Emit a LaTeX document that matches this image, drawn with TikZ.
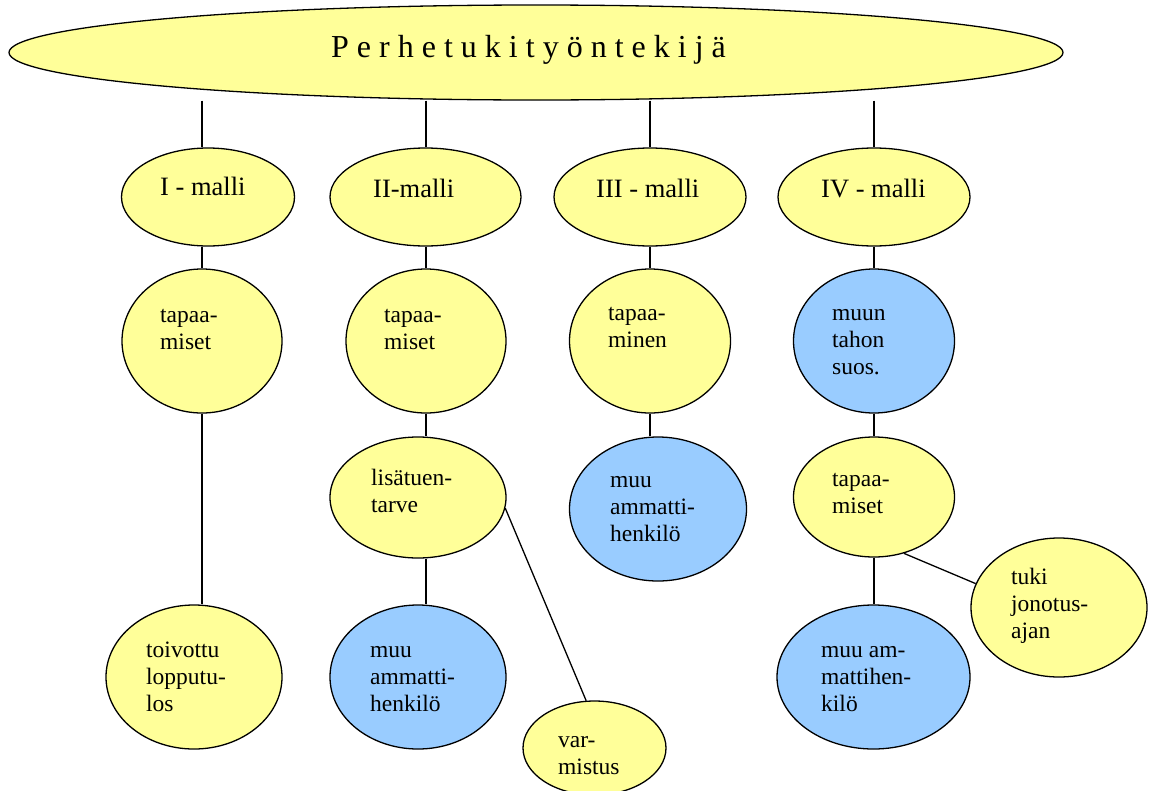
\documentclass[tikz,border=0pt]{standalone}
\usepackage{fontspec}
\setmainfont{Liberation Serif}
\usetikzlibrary{shapes.geometric,backgrounds}
\definecolor{paleyellow}{HTML}{FFFF99}
\definecolor{paleblue}{HTML}{99CCFF}

\begin{document}
\begin{tikzpicture}
  [x=1pt,y=-1pt,
  yel/.style={ellipse,draw=black,fill=paleyellow,line width=1.3pt,inner sep=0pt},
  blu/.style={ellipse,draw=black,fill=paleblue,line width=1.3pt,inner sep=0pt},
  txt/.style={anchor=north west,inner sep=0pt,align=left,font=\fontsize{23.5}{27}\selectfont},
  mtxt/.style={anchor=base west,inner sep=0pt,font=\fontsize{26.5}{30}\selectfont},
  link/.style={black,line width=1.3pt}]
  \useasboundingbox (0,0) rectangle (1153,790);

  \node[yel,minimum width=1054pt,minimum height=95pt] (top) at (536,52.5) {};
  \node[anchor=base west,inner sep=0pt,font=\fontsize{32}{36}\selectfont] (topl) at (331,57) {P e r h e t u k i t y ö n t e k i j ä};

  \node[yel,minimum width=173pt,minimum height=98pt] (m1) at (208,197) {};
  \node[yel,minimum width=191pt,minimum height=98pt] (m2) at (425.5,197) {};
  \node[yel,minimum width=192pt,minimum height=98pt] (m3) at (650,197) {};
  \node[yel,minimum width=192pt,minimum height=98pt] (m4) at (874,197) {};
  \node[mtxt] (m1l) at (160,195) {I - malli};
  \node[mtxt] (m2l) at (373,197) {II-malli};
  \node[mtxt] (m3l) at (596,197) {III - malli};
  \node[mtxt] (m4l) at (821,197) {IV - malli};

  \node[yel,minimum width=160pt,minimum height=144pt] (t1) at (202,341) {};
  \node[yel,minimum width=160pt,minimum height=144pt] (t2) at (426,341) {};
  \node[yel,minimum width=161pt,minimum height=144pt] (t3) at (650,341) {};
  \node[blu,minimum width=161pt,minimum height=144pt] (s4) at (874,341) {};
  \node[txt] (t1l) at (160,303) {\strut tapaa-\\miset};
  \node[txt] (t2l) at (384,303) {\strut tapaa-\\miset};
  \node[txt] (t3l) at (608,301) {\strut tapaa-\\minen};
  \node[txt] (s4l) at (832,301) {\strut muun\\tahon\\suos.};

  \node[yel,minimum width=176pt,minimum height=121pt] (lis) at (418,497.5) {};
  \node[blu,minimum width=177pt,minimum height=144pt] (mu3) at (658,509) {};
  \node[yel,minimum width=161pt,minimum height=120pt] (t4) at (874,497) {};
  \node[txt] (lisl) at (371,466) {\strut lisätuen-\\tarve};
  \node[txt] (mu3l) at (610,468) {\strut muu\\ammatti-\\henkilö};
  \node[txt] (t4l) at (832,467) {\strut tapaa-\\miset};

  \node[yel,minimum width=176pt,minimum height=144pt] (toi) at (194,677) {};
  \node[blu,minimum width=176pt,minimum height=144pt] (mu2) at (418,677) {};
  \node[yel,minimum width=143pt,minimum height=94pt] (var) at (594.5,748) {};
  \node[yel,minimum width=176pt,minimum height=139pt] (tuki) at (1059,607.5) {};
  \node[blu,minimum width=193pt,minimum height=144pt] (mu4) at (873.5,677) {};
  \node[txt] (toil) at (146,638) {\strut toivottu\\lopputu-\\los};
  \node[txt] (mu2l) at (370,638) {\strut muu\\ammatti-\\henkilö};
  \node[txt] (varl) at (558,728) {\strut var-\\mistus};
  \node[txt] (tukil) at (1011,565) {\strut tuki\\jonotus-\\ajan};
  \node[txt] (mu4l) at (821,638) {\strut muu am-\\mattihen-\\kilö};

  \begin{scope}[on background layer]
    % column I
    \draw[link] (top.south -| t1) -- (m1.north -| t1);
    \draw[link] (m1.south -| t1) -- (t1.north);
    \draw[link] (t1.south) -- (toi.north -| t1);
    % column II
    \draw[link] (top.south -| t2) -- (m2.north -| t2);
    \draw[link] (m2.south -| t2) -- (t2.north);
    \draw[link] (t2.south) -- (lis.north -| t2);
    \draw[link] (lis.south -| t2) -- (mu2.north -| t2);
    \draw[link] (lis.-7) -- (var.100);
    % column III
    \draw[link] (top.south -| t3) -- (m3.north -| t3);
    \draw[link] (m3.south -| t3) -- (t3.north);
    \draw[link] (t3.south) -- (mu3.north -| t3);
    % column IV
    \draw[link] (top.south -| s4) -- (m4.north -| s4);
    \draw[link] (m4.south -| s4) -- (s4.north);
    \draw[link] (s4.south) -- (t4.north);
    \draw[link] (t4.south) -- (mu4.north -| t4);
    \draw[link] (t4.-62) -- (tuki.164);
  \end{scope}
\end{tikzpicture}
\end{document}
